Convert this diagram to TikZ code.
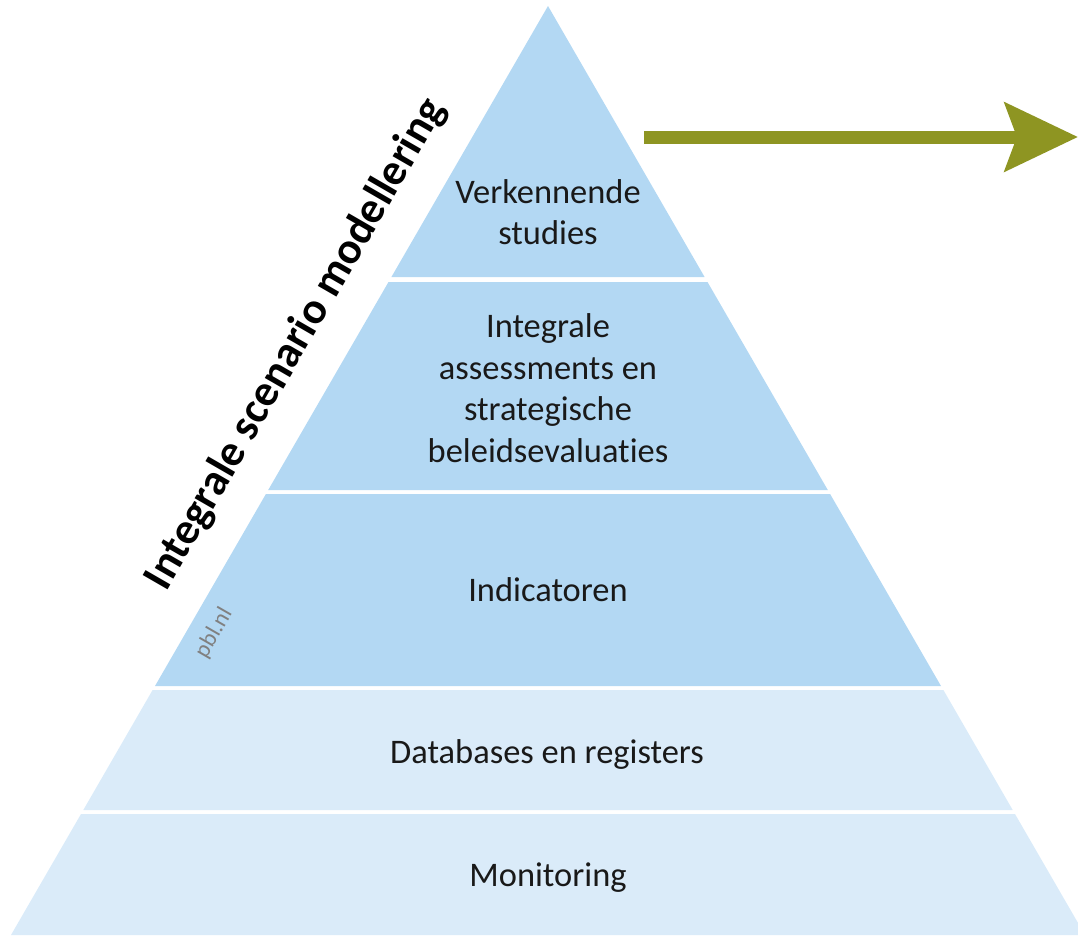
\documentclass[tikz,border=0pt]{standalone}
\usepackage{fontspec}
\setmainfont{Carlito}[Ligatures=NoCommon]
\usetikzlibrary{arrows.meta}
\definecolor{pyrdark}{HTML}{B3D8F3}
\definecolor{pyrlight}{HTML}{DAEBF9}
\definecolor{arrowolive}{HTML}{8E9522}

\begin{document}
\begin{tikzpicture}[x=0.025cm,y=-0.025cm]
            \useasboundingbox (0,0) rectangle (1078,935);
            \clip (0,0) rectangle (1078,935);
            % pyramid layers, top to bottom
            \fill[pyrdark] (548,6) -- (704.6,277) -- (391.4,277) -- cycle;
            \fill[pyrdark] (388.5,282) -- (707.5,282) -- (827.8,490) -- (268.2,490) -- cycle;
            \fill[pyrdark] (265.9,494) -- (830.1,494) -- (941,686) -- (155,686) -- cycle;
            \fill[pyrlight] (152.6,690) -- (943.4,690) -- (1012.7,810) -- (83.3,810) -- cycle;
            \fill[pyrlight] (81,814) -- (1015,814) -- (1085,935) -- (11,935) -- cycle;
            \begin{scope}[every node/.style={align=center,text=black!90,font=\fontsize{24.5}{29.5}\selectfont}]
                \node (verk) at (548,212) {Verkennende\\studies};
                \node (integr) at (548,388) {Integrale\\assessments en\\strategische\\beleidsevaluaties};
                \node (indic) at (548,590) {Indicatoren};
                \node (datab) at (547,754) {Databases en registers};
                \node (monit) at (548,878) {Monitoring};
            \end{scope}
            \node[rotate=60, anchor=base, inner sep=0pt, font=\bfseries\fontsize{31.5}{38}\selectfont] (title) at (306,350) {Integrale scenario modellering};
            \node[rotate=60, text=black!50, font=\fontsize{16.5}{20}\selectfont] (pbl) at (214,633) {pbl.nl};
            \coordinate (arrowstart) at (644,137);
            \coordinate (arrowend) at (1078,137);
            \draw[arrowolive, line width=9.25pt, -{Stealth[length=51.9pt,width=48.4pt,inset=8.5pt]}] (arrowstart) -- (arrowend);
        \end{tikzpicture}
\end{document}
